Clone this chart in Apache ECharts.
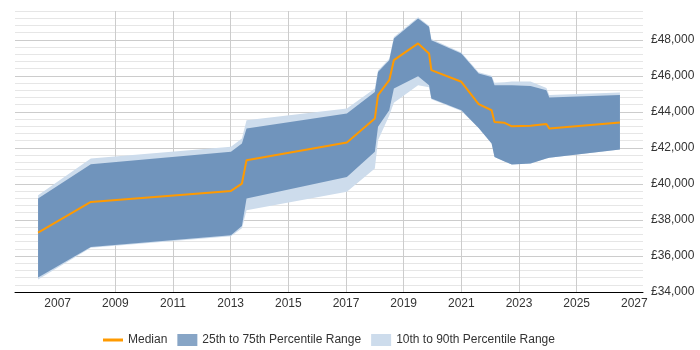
<!DOCTYPE html>
<html>
<head>
<meta charset="utf-8">
<script src="https://cdn.jsdelivr.net/npm/echarts@6/dist/echarts.min.js"></script>
<style>html,body{margin:0;padding:0;background:#fff;}#chart{width:700px;height:350px;}</style>
</head>
<body>
<div id="chart"></div>
<script>
// Decimal years of the data points
var years = [2006.32, 2008.15, 2013.01, 2013.39, 2013.55, 2017.03, 2018.0, 2018.11, 2018.5, 2018.66, 2019.5, 2019.88, 2019.96, 2021.0, 2021.6, 2022.05, 2022.15, 2022.5, 2022.75, 2023.4, 2023.95, 2024.05, 2026.5];
var median = [37300, 39000, 39610, 40020, 41320, 42300, 43630, 44930, 45760, 46870, 47800, 47240, 46320, 45670, 44430, 44090, 43440, 43390, 43200, 43230, 43330, 43080, 43410];
var p75 = [39190, 41090, 41780, 42240, 43080, 43910, 45110, 46220, 46870, 48080, 49190, 48720, 47980, 47240, 46130, 45940, 45480, 45480, 45480, 45430, 45200, 44800, 44930];
var p25 = [34800, 36500, 37150, 37670, 39190, 40390, 41780, 43170, 44090, 45300, 45980, 45480, 44740, 44090, 43100, 42240, 41500, 41250, 41080, 41130, 41410, 41450, 41910];
var p90 = [39370, 41410, 42060, 42520, 43540, 44190, 45300, 46300, 46950, 48150, 49250, 48780, 48050, 47300, 46200, 46000, 45610, 45650, 45680, 45680, 45330, 44930, 45080];
var p10 = [34700, 36450, 37090, 37540, 38540, 39560, 40860, 42430, 43800, 44500, 45480, 45360, 44700, 44050, 43100, 42240, 41500, 41250, 41080, 41130, 41410, 41450, 41910];
var yearTicks = [2007, 2009, 2011, 2013, 2015, 2017, 2019, 2021, 2023, 2025, 2027];
var seriesNames = ['Median', '25th to 75th Percentile Range', '10th to 90th Percentile Range'];

function fmt(v) { return '£' + String(v).replace(/\B(?=(\d{3})+(?!\d))/g, ','); }
function bandData(lo, hi) { return years.map(function (y, i) { return [y, lo[i], hi[i]]; }); }

// One polygon for the whole band, drawn through the chart's coordinate system
function bandRenderer(color, lo, hi) {
  return function (params, api) {
    if (params.dataIndex !== 0) return null;
    var rows = bandData(lo, hi);
    var top = [], bottom = [];
    for (var i = 0; i < rows.length; i++) {
      top.push(api.coord([rows[i][0], rows[i][2]]));
      bottom.push(api.coord([rows[i][0], rows[i][1]]));
    }
    var pts = top.concat(bottom.reverse());
    return {type: 'polygon', shape: {points: pts}, style: {fill: color, stroke: null}, silent: true};
  };
}

var DARK = '#7094bc', LIGHT = '#cddcec', ORANGE = '#ff9a00';
var chart = echarts.init(document.getElementById('chart'), null, {renderer: 'canvas'});
chart.setOption({
  animation: false,
  grid: {left: 15, right: 57, top: 11, bottom: 58, containLabel: false},
  xAxis: {
    type: 'value', min: 2005.52, max: 2027.3,
    axisLine: {show: true, lineStyle: {color: '#000', width: 1}},
    axisTick: {show: false, customValues: yearTicks},
    axisLabel: {customValues: yearTicks, color: '#333', fontSize: 12, fontFamily: 'Liberation Sans, Arial', margin: 6,
      formatter: function (v) { return String(v); }},
    splitLine: {show: true, showMinLine: false, showMaxLine: false, lineStyle: {color: '#cccccc', width: 1}}
  },
  yAxis: {
    type: 'value', position: 'right', min: 34000, max: 49600, interval: 400,
    axisLine: {show: false}, axisTick: {show: false},
    axisLabel: {color: '#333', fontSize: 12, fontFamily: 'Liberation Sans, Arial', margin: 8,
      formatter: function (v) { return v % 2000 === 0 ? fmt(v) : ''; }},
    splitLine: {show: true, lineStyle: {color: ['#cccccc', '#e6e6e6', '#e6e6e6', '#e6e6e6', '#e6e6e6'], width: 1}}
  },
  legend: {
    left: 98, top: 329, itemWidth: 20, itemHeight: 12, itemGap: 10,
    textStyle: {color: '#333', fontSize: 12, fontFamily: 'Liberation Sans, Arial'},
    data: [
      {name: seriesNames[0], icon: 'path://M0,0 M20,12 M0,4.5 L20,4.5 L20,7.5 L0,7.5 Z', itemStyle: {color: ORANGE}},
      {name: seriesNames[1], icon: 'rect', itemStyle: {color: '#87a5c6'}},
      {name: seriesNames[2], icon: 'rect', itemStyle: {color: LIGHT}}
    ]
  },
  series: [
    {name: seriesNames[2], type: 'custom', data: bandData(p10, p90), encode: {x: 0, y: [1, 2]},
      itemStyle: {color: LIGHT}, renderItem: bandRenderer(LIGHT, p10, p90), z: 1},
    {name: seriesNames[1], type: 'custom', data: bandData(p25, p75), encode: {x: 0, y: [1, 2]},
      itemStyle: {color: DARK}, renderItem: bandRenderer(DARK, p25, p75), z: 2},
    {name: seriesNames[0], type: 'line', data: years.map(function (y, i) { return [y, median[i]]; }), symbol: 'none',
      itemStyle: {color: ORANGE}, lineStyle: {color: ORANGE, width: 2}, z: 3}
  ]
});
</script>
</body>
</html>
